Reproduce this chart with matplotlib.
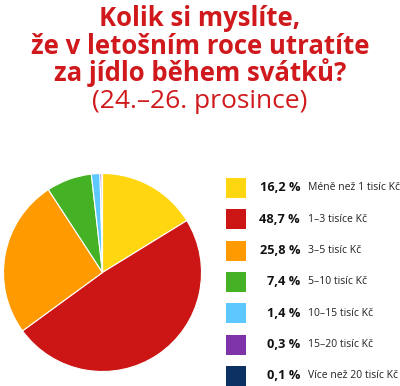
import matplotlib.pyplot as plt

# --- data ---
values = [16.2, 48.7, 25.8, 7.4, 1.4, 0.3, 0.1]
pct_labels = ["16,2 %", "48,7 %", "25,8 %", "7,4 %", "1,4 %", "0,3 %", "0,1 %"]
categories = ["Méně než 1 tisíc Kč", "1–3 tisíce Kč", "3–5 tisíc Kč", "5–10 tisíc Kč",
              "10–15 tisíc Kč", "15–20 tisíc Kč", "Více než 20 tisíc Kč"]
colors = ["#ffd60f", "#cc1515", "#ff9a00", "#45b225", "#5cc8ff", "#7f33a8", "#0b3263"]

W, H = 400, 386
fig = plt.figure(figsize=(W / 100, H / 100), dpi=100)
fig.patch.set_facecolor("white")

red = "#d0191c"
title_lines = ["Kolik si myslíte,", "že v letošním roce utratíte", "za jídlo během svátků?"]
for i, line in enumerate(title_lines):
    fig.text(0.5, 1 - (19 + 27 * i) / H, line, ha="center", va="center",
             fontsize=18.5, fontweight="bold", color=red, family="Open Sans")
fig.text(0.5, 1 - 101 / H, "(24.–26. prosince)", ha="center", va="center",
         fontsize=19, color=red, family="Open Sans")

# --- pie ---
ax = fig.add_axes([3 / W, (H - 372) / H, 199 / W, 199 / H])
ax.pie(values, colors=colors, startangle=90, counterclock=False,
       wedgeprops=dict(edgecolor="white", linewidth=0.8))
ax.set_xlim(-1.005, 1.005)
ax.set_ylim(-1.005, 1.005)
ax.set_aspect("equal")

# --- legend ---
for i, (p, c, col) in enumerate(zip(pct_labels, categories, colors)):
    y = 1 - (188 + 31.3 * i) / H
    fig.patches.append(plt.Rectangle((226 / W, y - 10 / H), 20 / W, 20 / H,
                                     transform=fig.transFigure, facecolor=col,
                                     edgecolor="none"))
    fig.text(300 / W, y, p, ha="right", va="center", fontsize=9.2,
             fontweight="bold", color="#111111", family="Open Sans")
    fig.text(308 / W, y, c, ha="left", va="center", fontsize=7.5,
             color="#222222", family="Open Sans")

fig.savefig("out.png", dpi=100)
